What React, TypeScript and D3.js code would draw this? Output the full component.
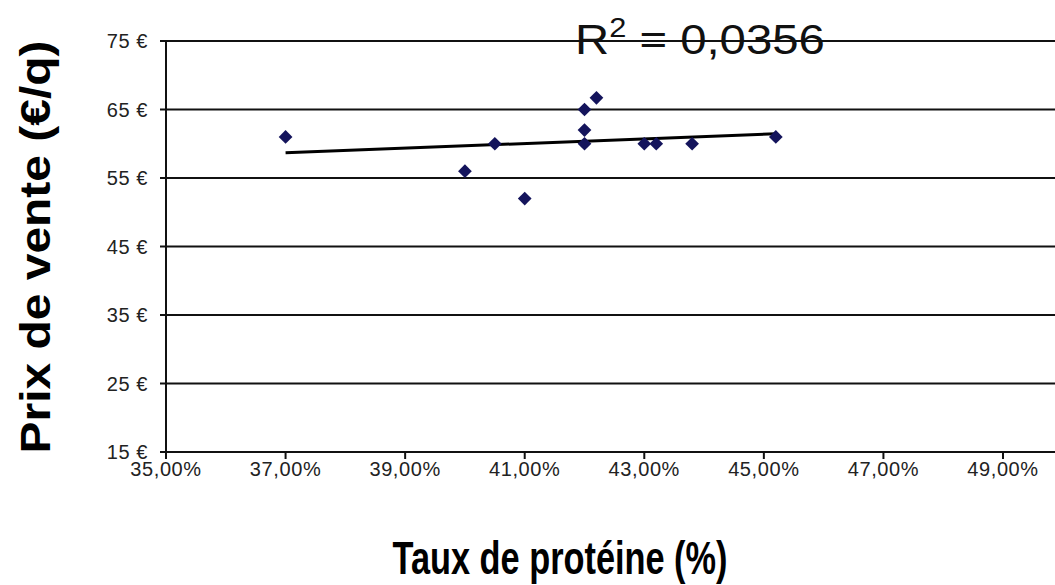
import { useEffect, useRef } from "react";
import * as d3 from "d3";

// protein rate (%) and sale price (€/q)
const proteinRates = [37.0, 40.0, 40.5, 41.0, 42.0, 42.0, 42.0, 42.2, 43.0, 43.2, 43.8, 45.2];
const salePrices = [61, 56, 60, 52, 60, 62, 65, 66.7, 60, 60, 60, 61];
const xTicks = [35, 37, 39, 41, 43, 45, 47, 49];
const yTicks = [15, 25, 35, 45, 55, 65, 75];
const r2Label = "0,0356";

export default function App() {
  const svgRef = useRef<SVGSVGElement>(null);

  useEffect(() => {
    if (!svgRef.current) return;
    const svg = d3.select(svgRef.current);
    svg.selectAll("*").remove();

    const width = 1055;
    const height = 585;
    const left = 166;
    const top = 41;
    const bottom = 452;
    const font = "Liberation Sans, Arial, sans-serif";

    const x = d3.scaleLinear().domain([35, 49]).range([left, 1003]);
    const y = d3.scaleLinear().domain([15, 75]).range([bottom, top]);

    svg.append("rect").attr("width", width).attr("height", height).attr("fill", "#fff");

    // horizontal gridlines (the 15 € one is the x axis)
    svg
      .append("g")
      .selectAll("line")
      .data(yTicks)
      .join("line")
      .attr("x1", left - 6)
      .attr("x2", width)
      .attr("y1", (d) => y(d))
      .attr("y2", (d) => y(d))
      .attr("stroke", "#111")
      .attr("stroke-width", 2);

    // y axis line
    svg
      .append("line")
      .attr("x1", left)
      .attr("x2", left)
      .attr("y1", top)
      .attr("y2", bottom + 7)
      .attr("stroke", "#111")
      .attr("stroke-width", 2);

    // x ticks
    svg
      .append("g")
      .selectAll("line")
      .data(xTicks)
      .join("line")
      .attr("x1", (d) => x(d))
      .attr("x2", (d) => x(d))
      .attr("y1", bottom)
      .attr("y2", bottom + 7)
      .attr("stroke", "#111")
      .attr("stroke-width", 2);

    const fmtPct = (d: number) => d.toFixed(2).replace(".", ",") + "%";

    // y tick labels
    svg
      .append("g")
      .selectAll("text")
      .data(yTicks)
      .join("text")
      .attr("x", 148)
      .attr("y", (d) => y(d))
      .attr("dy", "0.35em")
      .attr("text-anchor", "end")
      .attr("font-family", font)
      .attr("font-size", 20)
      .attr("letter-spacing", 0.6)
      .attr("fill", "#222")
      .text((d) => `${d} €`);

    // x tick labels
    svg
      .append("g")
      .selectAll("text")
      .data(xTicks)
      .join("text")
      .attr("x", (d) => x(d))
      .attr("y", bottom + 24)
      .attr("text-anchor", "middle")
      .attr("font-family", font)
      .attr("font-size", 20)
      .attr("letter-spacing", 0.6)
      .attr("fill", "#222")
      .text((d) => fmtPct(d));

    // least squares trendline
    const mx = d3.mean(proteinRates)!;
    const my = d3.mean(salePrices)!;
    let sxy = 0;
    let sxx = 0;
    proteinRates.forEach((v, i) => {
      sxy += (v - mx) * (salePrices[i] - my);
      sxx += (v - mx) * (v - mx);
    });
    const slope = sxy / sxx;
    const [x0, x1] = d3.extent(proteinRates) as [number, number];
    svg
      .append("line")
      .attr("x1", x(x0))
      .attr("y1", y(my + slope * (x0 - mx)))
      .attr("x2", x(x1))
      .attr("y2", y(my + slope * (x1 - mx)))
      .attr("stroke", "#000")
      .attr("stroke-width", 3);

    // points
    const diamond = d3.symbol().type(d3.symbolDiamond2).size(120);
    svg
      .append("g")
      .selectAll("path")
      .data(proteinRates)
      .join("path")
      .attr("d", diamond)
      .attr("transform", (d, i) => `translate(${x(d)},${y(salePrices[i])})`)
      .attr("fill", "#14145c");

    // R² label
    const r2 = svg
      .append("text")
      .attr("transform", "translate(575,54) scale(1.1,1)")
      .attr("font-family", font)
      .attr("font-size", 43)
      .attr("fill", "#111");
    r2.append("tspan").text("R");
    r2.append("tspan").attr("font-size", 28).attr("dy", -17).text("2");
    r2.append("tspan").attr("dy", 17).text(` = ${r2Label}`);

    // axis titles
    svg
      .append("text")
      .attr("transform", `translate(50,247) rotate(-90)`)
      .attr("text-anchor", "middle")
      .attr("font-family", font)
      .attr("font-weight", "bold")
      .attr("font-size", 42)
      .attr("textLength", 413)
      .attr("lengthAdjust", "spacingAndGlyphs")
      .attr("fill", "#000")
      .text("Prix de vente (€/q)");

    svg
      .append("text")
      .attr("x", 560)
      .attr("y", 574)
      .attr("text-anchor", "middle")
      .attr("font-family", font)
      .attr("font-weight", "bold")
      .attr("font-size", 47)
      .attr("textLength", 335)
      .attr("lengthAdjust", "spacingAndGlyphs")
      .attr("fill", "#000")
      .text("Taux de protéine (%)");
  }, []);

  return (
    <svg
      ref={svgRef}
      width={1055}
      height={585}
      style={{ position: "absolute", left: 0, top: 0 }}
    ></svg>
  );
}
